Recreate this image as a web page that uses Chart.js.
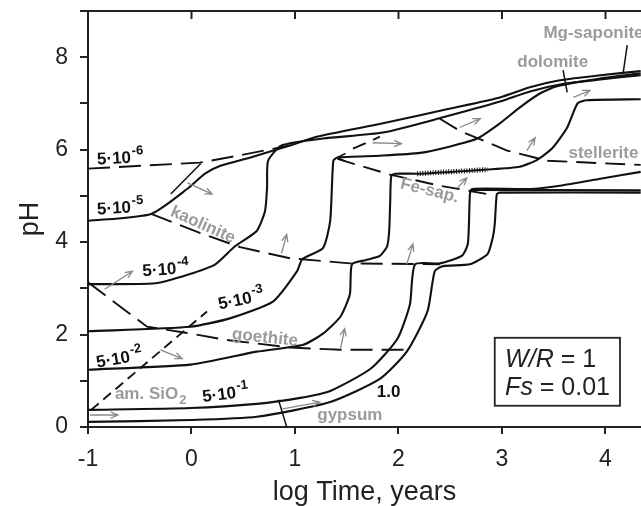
<!DOCTYPE html>
<html>
<head>
<meta charset="utf-8">
<script src="https://cdn.jsdelivr.net/npm/chart.js@4.4.1/dist/chart.umd.min.js"></script>
<style>
  html, body { margin: 0; padding: 0; background: #fff; }
</style>
</head>
<body>
<canvas id="chartPH" width="641" height="506"></canvas>
<script>
// axis ticks
const xTicks = [-1, 0, 1, 2, 3, 4];
const yTicks = [0, 2, 4, 6, 8];

// reaction paths (log time, pH), one per initial concentration
const path5e6 = [[-1, 5.59], [0.08, 5.72], [0.45, 5.87], [0.95, 6.09]];
const path5e5 = [[-1, 4.46], [-0.39, 4.61], [-0.03, 5.17], [0.13, 5.48], [0.28, 5.65], [0.57, 5.83],
  [0.95, 6.09], [1.21, 6.28], [1.85, 6.57], [2.5, 6.89], [2.98, 7.13], [3.27, 7.35], [3.56, 7.5],
  [3.95, 7.61], [4.34, 7.7]];
const path5e4 = [[-1, 3.09], [-0.35, 3.11], [-0.03, 3.3], [0.23, 3.52], [0.42, 3.91], [0.63, 4.24],
  [0.71, 4.67], [0.73, 5.17], [0.74, 5.76], [0.87, 6.09], [1.27, 6.24], [1.85, 6.37], [2.43, 6.7],
  [2.98, 7.04], [3.27, 7.26], [3.56, 7.41], [3.95, 7.52], [4.34, 7.61]];
const path5e3 = [[-1, 2.07], [-0.01, 2.17], [0.37, 2.35], [0.79, 2.72], [1.02, 3.37], [1.07, 3.63],
  [1.27, 3.87], [1.34, 4.46], [1.37, 5.76], [1.41, 5.83], [1.82, 5.87], [2.21, 5.93], [2.5, 6.07],
  [2.76, 6.24], [2.98, 6.57], [3.17, 6.91], [3.37, 7.22], [3.53, 7.37], [3.95, 7.54], [4.34, 7.65]];
const path5e2 = [[-1, 1.24], [-0.01, 1.35], [0.63, 1.63], [1.08, 1.78], [1.27, 2.02], [1.44, 2.39],
  [1.53, 2.87], [1.55, 3.52], [1.68, 3.61], [1.82, 3.7], [1.89, 3.91], [1.91, 4.24], [1.92, 4.89],
  [1.93, 5.43], [1.97, 5.48], [2.21, 5.48], [2.86, 5.57], [3.17, 5.63], [3.34, 5.78], [3.49, 6.04],
  [3.63, 6.48], [3.73, 7.0], [3.82, 7.07], [4.34, 7.09]];
const path5e1 = [[-1, 0.37], [-0.01, 0.41], [0.63, 0.5], [1.05, 0.63], [1.34, 0.78], [1.73, 1.26],
  [1.99, 1.91], [2.11, 2.65], [2.16, 3.52], [2.4, 3.54], [2.61, 3.7], [2.67, 3.96], [2.69, 5.04],
  [2.71, 5.15], [3.27, 5.15], [3.56, 5.22], [3.95, 5.37], [4.34, 5.52]];
const path5e1Flat = [[2.71, 5.13], [4.34, 5.12]];
const path1 = [[-1, 0.11], [-0.01, 0.15], [0.63, 0.22], [1.34, 0.54], [1.82, 1.04], [2.08, 1.63],
  [2.28, 2.5], [2.35, 3.37], [2.43, 3.48], [2.69, 3.52], [2.86, 3.74], [2.91, 4.09], [2.93, 4.39],
  [2.95, 5.04], [2.98, 5.07], [4.34, 5.07]];
const fesapSerration = [[2.18, 5.48], [2.86, 5.57]];

// mineral saturation boundaries
const kaoliniteLine = [[-0.39, 4.61], [0.08, 4.2], [0.47, 3.89], [0.95, 3.65], [1.53, 3.54], [2.4, 3.52]];
const goethiteLine = [[-1, 3.13], [-0.43, 2.17], [-0.06, 2.04], [0.32, 1.89], [0.95, 1.72], [1.44, 1.67], [2.08, 1.67]];
const sio2Line = [[-0.97, 0.37], [0.15, 2.5]];
const fesapLine = [[1.41, 5.8], [1.92, 5.46], [2.4, 5.22], [2.86, 5.04]];
const stelleriteLine = [[2.4, 6.67], [2.59, 6.41], [3.05, 5.98], [3.44, 5.76], [4.34, 5.67]];
const upperLine = [[1.56, 6.02], [1.82, 6.28]];
const kaoliniteTie = [[0.09, 5.7], [-0.2, 5.04]];
const gypsumTie = [[0.84, 0.59], [0.92, 0.0]];
const dolomitePointer = [[3.59, 7.72], [3.63, 7.24]];
const saponitePointer = [[4.21, 8.26], [4.17, 7.65]];

// direction arrows [from, to]
const arrows = [
  [[-0.04, 5.28], [0.2, 5.04]],
  [[-0.84, 2.98], [-0.57, 3.37]],
  [[-0.98, 0.26], [-0.71, 0.26]],
  [[-0.3, 1.67], [-0.09, 1.48]],
  [[0.88, 0.39], [1.24, 0.54]],
  [[0.87, 3.76], [0.92, 4.17]],
  [[1.44, 1.7], [1.48, 2.13]],
  [[2.08, 3.52], [2.14, 3.96]],
  [[2.57, 5.17], [2.66, 5.39]],
  [[1.75, 6.15], [2.03, 6.13]],
  [[2.59, 6.48], [2.79, 6.67]],
  [[3.24, 5.98], [3.32, 6.26]],
  [[3.69, 7.13], [3.85, 7.28]]
];

const FONT = '"Liberation Sans", Arial, sans-serif';
Chart.defaults.font.family = FONT;

function solid(data, w) {
  return { data: data.map(p => ({ x: p[0], y: p[1] })), showLine: true, pointRadius: 0,
    borderColor: "#111", borderWidth: w || 2.1, tension: 0.2, fill: false };
}
function dashed(data, dash) {
  const d = solid(data, 1.9);
  d.borderDash = dash || [22, 9];
  d.tension = 0;
  return d;
}

const serr = solid(fesapSerration, 5);
serr.borderDash = [1, 1.6];
serr.tension = 0;

const annotate = {
  id: "annotate",
  afterDatasetsDraw(chart) {
    const ctx = chart.ctx;
    const sx = chart.scales.x, sy = chart.scales.y;
    const P = (x, y) => [sx.getPixelForValue(x), sy.getPixelForValue(y)];
    const area = chart.chartArea;

    ctx.save();
    // top frame with inward ticks
    ctx.strokeStyle = "#222";
    ctx.lineWidth = 2;
    ctx.beginPath();
    ctx.moveTo(area.left, area.top);
    ctx.lineTo(area.right, area.top);
    xTicks.forEach(v => {
      const x = sx.getPixelForValue(v);
      ctx.moveTo(x, area.top);
      ctx.lineTo(x, area.top + 8);
    });
    ctx.stroke();

    // arrows
    ctx.strokeStyle = "#8a8a8a";
    ctx.lineWidth = 1.3;
    arrows.forEach(a => {
      const p0 = P(a[0][0], a[0][1]), p1 = P(a[1][0], a[1][1]);
      const ang = Math.atan2(p1[1] - p0[1], p1[0] - p0[0]);
      ctx.beginPath();
      ctx.moveTo(p0[0], p0[1]);
      ctx.lineTo(p1[0], p1[1]);
      ctx.moveTo(p1[0] - 8 * Math.cos(ang - 0.4), p1[1] - 8 * Math.sin(ang - 0.4));
      ctx.lineTo(p1[0], p1[1]);
      ctx.lineTo(p1[0] - 8 * Math.cos(ang + 0.4), p1[1] - 8 * Math.sin(ang + 0.4));
      ctx.stroke();
    });
    // dark arrowhead on 5e-3 path
    {
      const p1 = P(1.41, 5.83);
      ctx.strokeStyle = "#111";
      ctx.lineWidth = 1.5;
      ctx.beginPath();
      ctx.moveTo(p1[0] + 8, p1[1] - 4);
      ctx.lineTo(p1[0], p1[1]);
      ctx.lineTo(p1[0] + 8, p1[1] + 4);
      ctx.stroke();
    }

    // concentration labels
    const power = (base, exp, x, y, rot) => {
      const p = P(x, y);
      ctx.save();
      ctx.translate(p[0], p[1]);
      ctx.rotate(rot * Math.PI / 180);
      ctx.fillStyle = "#111";
      ctx.textAlign = "left";
      ctx.textBaseline = "alphabetic";
      ctx.font = "bold 17px " + FONT;
      ctx.fillText(base, 0, 0);
      if (exp) {
        const w = ctx.measureText(base).width;
        ctx.font = "bold 13px " + FONT;
        ctx.fillText(exp, w + 1, -8);
      }
      ctx.restore();
    };
    power("5\u00B710", "-6", -0.91, 5.68, -3);
    power("5\u00B710", "-5", -0.91, 4.6, -3);
    power("5\u00B710", "-4", -0.47, 3.26, -4);
    power("5\u00B710", "-3", 0.27, 2.54, -12);
    power("5\u00B710", "-2", -0.91, 1.28, -10);
    power("5\u00B710", "-1", 0.11, 0.54, -7);
    power("1.0", "", 1.79, 0.65, 0);

    // mineral labels
    const mineral = (txt, x, y, rot, align) => {
      const p = P(x, y);
      ctx.save();
      ctx.translate(p[0], p[1]);
      ctx.rotate(rot * Math.PI / 180);
      ctx.fillStyle = "#9b9b9b";
      ctx.font = "bold 17px " + FONT;
      ctx.textAlign = align || "center";
      ctx.textBaseline = "middle";
      ctx.fillText(txt, 0, 0);
      ctx.restore();
    };
    mineral("kaolinite", 0.11, 4.37, 24);
    mineral("goethite", 0.71, 1.93, 6);
    mineral("Fe-sap.", 2.3, 5.11, 14);
    mineral("stellerite", 3.98, 5.93, 0);
    mineral("dolomite", 3.49, 7.89, 0);
    mineral("Mg-saponite", 3.4, 8.52, 0, "left");
    mineral("gypsum", 1.53, 0.26, 0);
    {
      const p = P(-0.74, 0.61);
      ctx.fillStyle = "#9b9b9b";
      ctx.font = "bold 17px " + FONT;
      ctx.textAlign = "left";
      ctx.textBaseline = "alphabetic";
      ctx.fillText("am. SiO", p[0], p[1]);
      const w = ctx.measureText("am. SiO").width;
      ctx.font = "bold 13px " + FONT;
      ctx.fillText("2", p[0] + w + 1, p[1] + 5);
    }

    // W/R box
    {
      const a = P(2.93, 1.93), b = P(4.14, 0.46);
      ctx.strokeStyle = "#222";
      ctx.lineWidth = 1.8;
      ctx.strokeRect(a[0], a[1], b[0] - a[0], b[1] - a[1]);
      ctx.fillStyle = "#222";
      ctx.textAlign = "left";
      ctx.textBaseline = "alphabetic";
      const line = (it, rest, y) => {
        const p = P(3.03, y);
        ctx.font = "italic 25px " + FONT;
        ctx.fillText(it, p[0], p[1]);
        const w = ctx.measureText(it).width;
        ctx.font = "25px " + FONT;
        ctx.fillText(rest, p[0] + w, p[1]);
      };
      line("W/R", " = 1", 1.3);
      line("Fs", " = 0.01", 0.7);
    }
    ctx.restore();
  }
};

new Chart(document.getElementById("chartPH"), {
  type: "scatter",
  data: {
    datasets: [
      dashed(path5e6),
      solid(path5e5),
      solid(path5e4),
      solid(path5e3),
      solid(path5e2),
      solid(path5e1),
      solid(path5e1Flat),
      solid(path1),
      serr,
      dashed(kaoliniteLine),
      dashed(goethiteLine),
      dashed(sio2Line, [10, 6]),
      dashed(fesapLine, [18, 9]),
      dashed(stelleriteLine, [20, 9]),
      dashed(upperLine, [14, 8]),
      solid(kaoliniteTie, 1.5),
      solid(gypsumTie, 1.5),
      solid(dolomitePointer, 1.5),
      solid(saponitePointer, 1.5)
    ]
  },
  options: {
    responsive: false,
    animation: false,
    layout: { padding: { top: 11, right: 0, left: 0, bottom: 0 } },
    plugins: { legend: { display: false }, tooltip: { enabled: false } },
    scales: {
      x: {
        type: "linear",
        min: -1,
        max: 4.343,
        afterFit: s => { s.height = 79; s.paddingLeft = 0; s.paddingRight = 0; },
        ticks: { stepSize: 1, includeBounds: false, color: "#222", padding: 12, font: { size: 23 } },
        grid: { drawOnChartArea: false, tickLength: 7, color: "#222", lineWidth: 2 },
        border: { display: true, color: "#222", width: 2 },
        title: { display: true, text: "log Time, years", color: "#222", font: { size: 27, lineHeight: 1 }, padding: { top: 0, bottom: 0 } }
      },
      y: {
        min: 0,
        max: 9,
        afterFit: s => { s.width = 88; s.paddingTop = 0; s.paddingBottom = 0; },
        ticks: {
          stepSize: 1,
          color: "#222",
          padding: 12,
          font: { size: 23 },
          callback: v => (yTicks.includes(v) ? v : "")
        },
        grid: { drawOnChartArea: false, tickLength: 8, color: "#222", lineWidth: 2 },
        border: { display: true, color: "#222", width: 2 },
        title: { display: true, text: "pH", color: "#222", font: { size: 27, lineHeight: 1 }, padding: { top: 17, bottom: 0 } }
      }
    }
  },
  plugins: [annotate]
});
</script>
</body>
</html>
